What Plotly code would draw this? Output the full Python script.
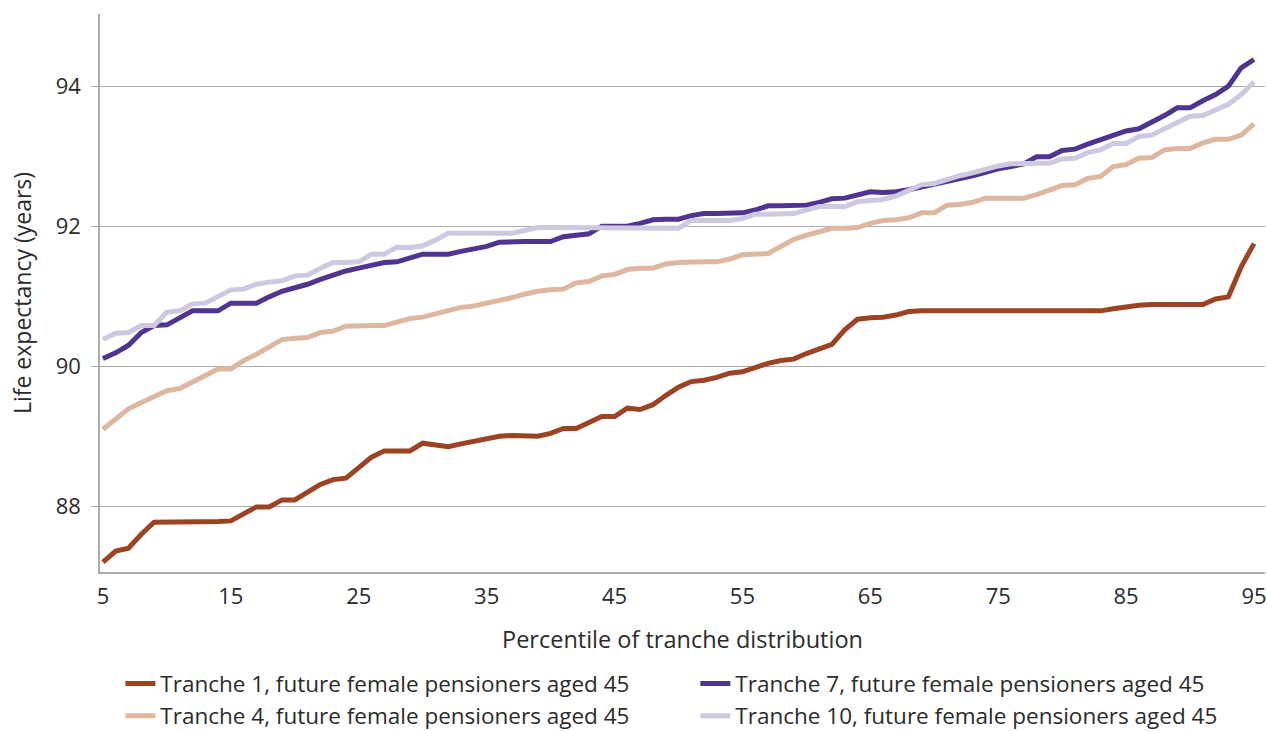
import plotly.graph_objects as go

percentiles = list(range(5, 96))

tranche_1 = [
    87.20, 87.36, 87.40, 87.60, 87.77, 87.77, 87.77, 87.78, 87.78, 87.78,  # 5-14
    87.79, 87.90, 87.99, 87.99, 88.09, 88.09, 88.19, 88.31, 88.38, 88.40,  # 15-24
    88.55, 88.70, 88.79, 88.79, 88.79, 88.90, 88.88, 88.85, 88.89, 88.93,  # 25-34
    88.97, 89.00, 89.01, 89.01, 89.00, 89.04, 89.11, 89.11, 89.20, 89.28,  # 35-44
    89.28, 89.40, 89.38, 89.45, 89.58, 89.70, 89.78, 89.80, 89.84, 89.90,  # 45-54
    89.92, 89.98, 90.04, 90.08, 90.10, 90.18, 90.25, 90.31, 90.52, 90.67,  # 55-64
    90.69, 90.70, 90.73, 90.78, 90.79, 90.79, 90.79, 90.79, 90.79, 90.79,  # 65-74
    90.79, 90.79, 90.79, 90.79, 90.79, 90.79, 90.79, 90.79, 90.79, 90.82,  # 75-84
    90.85, 90.87, 90.88, 90.88, 90.88, 90.88, 90.88, 90.96, 90.99, 91.42,  # 85-94
    91.75,                                                                 # 95
]

tranche_4 = [
    89.10, 89.25, 89.39, 89.48, 89.57, 89.65, 89.68, 89.78, 89.87, 89.96,
    89.96, 90.08, 90.17, 90.28, 90.38, 90.40, 90.41, 90.48, 90.50, 90.57,
    90.58, 90.58, 90.58, 90.63, 90.68, 90.70, 90.75, 90.80, 90.84, 90.86,
    90.90, 90.93, 90.98, 91.03, 91.07, 91.09, 91.10, 91.19, 91.21, 91.29,
    91.31, 91.38, 91.40, 91.40, 91.46, 91.48, 91.49, 91.49, 91.49, 91.53,
    91.59, 91.60, 91.61, 91.71, 91.81, 91.87, 91.92, 91.97, 91.97, 91.98,
    92.04, 92.08, 92.09, 92.12, 92.19, 92.19, 92.30, 92.31, 92.34, 92.40,
    92.40, 92.40, 92.40, 92.45, 92.51, 92.58, 92.59, 92.68, 92.71, 92.85,
    92.88, 92.97, 92.98, 93.09, 93.11, 93.11, 93.19, 93.24, 93.24, 93.30,
    93.46,
]

tranche_7 = [
    90.11, 90.19, 90.30, 90.48, 90.58, 90.59, 90.69, 90.79, 90.79, 90.79,
    90.90, 90.90, 90.90, 90.99, 91.07, 91.12, 91.17, 91.24, 91.30, 91.36,
    91.40, 91.44, 91.48, 91.49, 91.54, 91.60, 91.60, 91.60, 91.64, 91.68,
    91.71, 91.77, 91.78, 91.78, 91.78, 91.78, 91.85, 91.87, 91.89, 92.00,
    92.00, 92.00, 92.04, 92.09, 92.10, 92.10, 92.15, 92.18, 92.18, 92.19,
    92.19, 92.23, 92.29, 92.29, 92.30, 92.30, 92.34, 92.39, 92.40, 92.44,
    92.49, 92.48, 92.49, 92.52, 92.56, 92.60, 92.63, 92.67, 92.72, 92.77,
    92.82, 92.85, 92.89, 92.99, 92.99, 93.08, 93.10, 93.17, 93.23, 93.29,
    93.36, 93.39, 93.48, 93.58, 93.69, 93.69, 93.79, 93.88, 94.00, 94.26,
    94.38,
]

tranche_10 = [
    90.38, 90.47, 90.48, 90.58, 90.58, 90.77, 90.79, 90.89, 90.90, 91.00,
    91.09, 91.10, 91.17, 91.20, 91.22, 91.29, 91.30, 91.40, 91.48, 91.48,
    91.49, 91.60, 91.60, 91.70, 91.69, 91.72, 91.80, 91.90, 91.90, 91.90,
    91.90, 91.90, 91.90, 91.94, 91.98, 91.98, 91.98, 91.98, 91.98, 91.98,
    91.98, 91.98, 91.97, 91.97, 91.97, 91.97, 92.08, 92.08, 92.08, 92.08,
    92.11, 92.17, 92.17, 92.18, 92.18, 92.23, 92.28, 92.28, 92.28, 92.35,
    92.37, 92.38, 92.43, 92.51, 92.59, 92.61, 92.67, 92.72, 92.76, 92.81,
    92.86, 92.89, 92.90, 92.90, 92.90, 92.96, 92.97, 93.05, 93.09, 93.18,
    93.18, 93.28, 93.30, 93.39, 93.49, 93.57, 93.58, 93.66, 93.74, 93.88,
    94.06,
]

x_ticks = [5, 15, 25, 35, 45, 55, 65, 75, 85, 95]
y_ticks = [88, 90, 92, 94]

series = [
    ("Tranche 1, future female pensioners aged 45", tranche_1, "#9C4324", 1),
    ("Tranche 4, future female pensioners aged 45", tranche_4, "#DDB7A0", 3),
    ("Tranche 7, future female pensioners aged 45", tranche_7, "#4F3590", 2),
    ("Tranche 10, future female pensioners aged 45", tranche_10, "#CEC8E0", 4),
]

FONT = "Open Sans"
TXT = "#2b2b2b"
GRID = "#ABABAB"

fig = go.Figure()
for name, vals, color, rank in series:
    fig.add_trace(go.Scatter(
        x=percentiles, y=vals, name=name, mode="lines",
        line=dict(color=color, width=5),
        legendrank=rank,
    ))

fig.update_layout(
    width=1267, height=731,
    margin=dict(l=100, r=2, t=14, b=159),
    plot_bgcolor="white", paper_bgcolor="white",
    font=dict(family=FONT, size=22, color=TXT),
    showlegend=True,
    legend=dict(
        orientation="h",
        x=0.095, xanchor="left", xref="container",
        y=0.094, yanchor="top", yref="container",
        font=dict(family=FONT, size=22.5, color=TXT),
        entrywidth=530,
        tracegroupgap=0,
        itemwidth=30,
    ),
    xaxis=dict(
        range=[4.77, 95.86],
        tickvals=x_ticks,
        showgrid=False,
        showline=True, linecolor=GRID, linewidth=1.5,
        ticks="",
        zeroline=False,
        automargin=False,
        ticklabelstandoff=4,
        tickfont=dict(family=FONT, size=22, color=TXT),
        title=dict(text="Percentile of tranche distribution",
                   font=dict(family=FONT, size=23.5, color=TXT), standoff=22),
    ),
    yaxis=dict(
        range=[87.06, 95.03],
        tickvals=y_ticks,
        showgrid=True, gridcolor=GRID, gridwidth=1,
        showline=True, linecolor=GRID, linewidth=1.5,
        ticks="outside", ticklen=7, tickcolor=GRID,
        zeroline=False,
        automargin=False,
        ticklabelstandoff=6,
        tickfont=dict(family=FONT, size=22, color=TXT),
        title=dict(text="Life expectancy (years)",
                   font=dict(family=FONT, size=23, color=TXT), standoff=18),
    ),
)

fig.write_html(
    "out.html",
    config={"displayModeBar": False},
    post_script="document.body.style.margin='0';",
)
